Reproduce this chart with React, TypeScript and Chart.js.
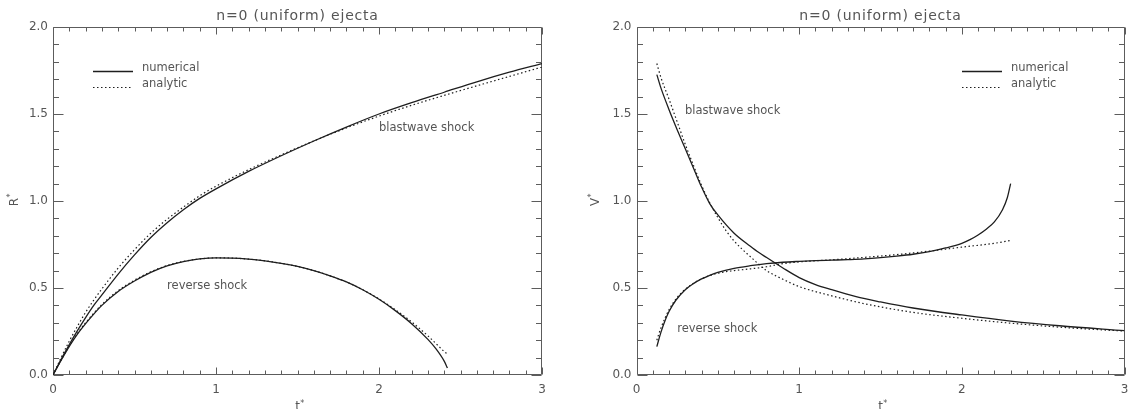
import { useEffect, useRef } from "react";
import { Chart, registerables } from "chart.js";

Chart.register(...registerables);

// ---------- texts ----------
const TITLE = "n=0 (uniform) ejecta";
const X_LABEL = "t";
const LEFT_Y_LABEL = "R";
const RIGHT_Y_LABEL = "V";
const SUP = "*";
const LEGEND_LABELS = ["numerical", "analytic"];
const BLAST_LABEL = "blastwave shock";
const REVERSE_LABEL = "reverse shock";

// ---------- ticks ----------
const X_TICKS = [0, 1, 2, 3];
const Y_TICKS = [0, 0.5, 1.0, 1.5, 2.0];

// ---------- left panel: R* vs t* ----------
const rBlastT = [0, 0.05, 0.1, 0.15, 0.2, 0.25, 0.3, 0.4, 0.5, 0.6, 0.7, 0.8, 0.9, 1.0, 1.2, 1.4, 1.6, 1.8, 2.0, 2.2, 2.4, 2.6, 2.8, 3.0];
const rBlastNum = [0, 0.09, 0.175, 0.255, 0.33, 0.4, 0.46, 0.58, 0.69, 0.79, 0.875, 0.95, 1.015, 1.07, 1.17, 1.26, 1.345, 1.425, 1.5, 1.565, 1.625, 1.685, 1.74, 1.79];
const rBlastAna = [0, 0.1, 0.195, 0.28, 0.36, 0.43, 0.495, 0.615, 0.72, 0.815, 0.895, 0.965, 1.03, 1.085, 1.18, 1.265, 1.345, 1.42, 1.488, 1.55, 1.607, 1.662, 1.716, 1.77];

const rRevT = [0, 0.05, 0.1, 0.15, 0.2, 0.25, 0.3, 0.4, 0.5, 0.6, 0.7, 0.8, 0.9, 1.0, 1.1, 1.2, 1.3, 1.4, 1.5, 1.6, 1.7, 1.8, 1.9, 2.0, 2.1, 2.2, 2.3, 2.35, 2.4, 2.42];
const rRevNum = [0, 0.085, 0.165, 0.235, 0.295, 0.35, 0.4, 0.48, 0.54, 0.59, 0.627, 0.652, 0.667, 0.673, 0.672, 0.666, 0.656, 0.642, 0.624, 0.6, 0.57, 0.535, 0.49, 0.435, 0.37, 0.295, 0.205, 0.15, 0.08, 0.04];
const rRevAna = [0, 0.087, 0.168, 0.24, 0.3, 0.355, 0.405, 0.485, 0.545, 0.593, 0.629, 0.653, 0.667, 0.673, 0.672, 0.666, 0.656, 0.642, 0.624, 0.6, 0.57, 0.535, 0.49, 0.437, 0.375, 0.305, 0.225, 0.18, 0.135, 0.12];

// ---------- right panel: V* vs t* ----------
const vBlastNumT = [0.125, 0.15, 0.2, 0.25, 0.3, 0.35, 0.4, 0.45, 0.5, 0.6, 0.7, 0.75, 0.8, 0.85, 0.9, 1.0, 1.1, 1.2, 1.35, 1.5, 1.7, 2.0, 2.3, 2.6, 3.0];
const vBlastNum = [1.726, 1.65, 1.525, 1.41, 1.3, 1.19, 1.08, 0.985, 0.92, 0.815, 0.74, 0.705, 0.675, 0.645, 0.615, 0.56, 0.52, 0.49, 0.45, 0.42, 0.385, 0.345, 0.31, 0.283, 0.255];
const vBlastAnaT = [0.125, 0.15, 0.2, 0.25, 0.3, 0.35, 0.4, 0.45, 0.5, 0.55, 0.6, 0.7, 0.8, 0.9, 1.0, 1.2, 1.4, 1.7, 2.0, 2.3, 2.6, 3.0];
const vBlastAna = [1.79, 1.71, 1.585, 1.455, 1.325, 1.205, 1.09, 0.99, 0.905, 0.83, 0.77, 0.68, 0.6, 0.55, 0.508, 0.455, 0.41, 0.36, 0.326, 0.298, 0.275, 0.252];

const vRevNumT = [0.125, 0.15, 0.177, 0.2, 0.243, 0.3, 0.35, 0.4, 0.45, 0.5, 0.6, 0.7, 0.8, 0.9, 1.0, 1.1, 1.2, 1.3, 1.4, 1.5, 1.6, 1.7, 1.8, 1.9, 2.0, 2.05, 2.1, 2.15, 2.2, 2.25, 2.28, 2.3];
const vRevNum = [0.163, 0.245, 0.316, 0.365, 0.431, 0.49, 0.525, 0.552, 0.573, 0.59, 0.613, 0.628, 0.64, 0.648, 0.653, 0.657, 0.66, 0.663, 0.667, 0.674, 0.683, 0.694, 0.709, 0.73, 0.757, 0.778, 0.805, 0.838, 0.88, 0.95, 1.02, 1.1];
const vRevAnaT = [0.125, 0.15, 0.2, 0.25, 0.3, 0.35, 0.4, 0.5, 0.6, 0.7, 0.8, 0.9, 1.0, 1.2, 1.4, 1.6, 1.8, 2.0, 2.2, 2.3];
const vRevAna = [0.2, 0.27, 0.375, 0.445, 0.493, 0.527, 0.553, 0.585, 0.6, 0.61, 0.622, 0.64, 0.65, 0.662, 0.676, 0.692, 0.712, 0.735, 0.757, 0.773];

// ---------- styles ----------
const AXIS_COLOR = "#5c5c5c";
const TEXT_COLOR = "#555555";
const LINE_COLOR = "#1e1e1e";
const FONT = '"DejaVu Sans", sans-serif';
const CANVAS_H = 409;

type Panel = {
  key: string;
  left: number;
  width: number;
  yAxisWidth: number;
  padRight: number;
  yLabel: string;
  yLabelX: number;
  legend: { x0: number; x1: number; textX: number; y0: number; y1: number };
  blastAt: [number, number];
  reverseAt: [number, number];
  series: { t: number[]; v: number[]; dashed: boolean }[];
};

const PANELS: Panel[] = [
  {
    key: "R",
    left: 0,
    width: 564,
    yAxisWidth: 53,
    padRight: 22,
    yLabel: LEFT_Y_LABEL,
    yLabelX: 14.5,
    legend: { x0: 93, x1: 133, textX: 142, y0: 72, y1: 88 },
    blastAt: [2.0, 1.42],
    reverseAt: [0.7, 0.51],
    series: [
      { t: rBlastT, v: rBlastNum, dashed: false },
      { t: rBlastT, v: rBlastAna, dashed: true },
      { t: rRevT, v: rRevNum, dashed: false },
      { t: rRevT, v: rRevAna, dashed: true },
    ],
  },
  {
    key: "V",
    left: 564,
    width: 564,
    yAxisWidth: 72.5,
    padRight: 3.5,
    yLabel: RIGHT_Y_LABEL,
    yLabelX: 31.6,
    legend: { x0: 398, x1: 438, textX: 447, y0: 72, y1: 88 },
    blastAt: [0.298, 1.52],
    reverseAt: [0.25, 0.265],
    series: [
      { t: vBlastNumT, v: vBlastNum, dashed: false },
      { t: vBlastAnaT, v: vBlastAna, dashed: true },
      { t: vRevNumT, v: vRevNum, dashed: false },
      { t: vRevAnaT, v: vRevAna, dashed: true },
    ],
  },
];

const DOT_DASH = [1.5, 2.5];

function makeDecor(p: Panel) {
  return {
    id: "decor" + p.key,
    beforeDatasetsDraw(chart: any) {
      const { ctx, chartArea: a, scales } = chart;
      const xs = scales.x;
      const ys = scales.y;
      const L = Math.round(a.left) + 0.5;
      const R = Math.round(a.right) - 0.5;
      const T = Math.round(a.top) + 0.5;
      const B = Math.round(a.bottom) - 0.5;
      ctx.save();
      ctx.strokeStyle = AXIS_COLOR;
      ctx.lineWidth = 1;
      ctx.beginPath();
      ctx.rect(L, T, R - L, B - T);
      ctx.stroke();
      ctx.beginPath();
      for (let i = 0; i <= 30; i++) {
        const v = i / 10;
        const len = i % 10 === 0 ? 7 : 4;
        const px = Math.round(xs.getPixelForValue(v)) + 0.5;
        ctx.moveTo(px, B);
        ctx.lineTo(px, B - len);
        ctx.moveTo(px, T);
        ctx.lineTo(px, T + len);
      }
      for (let i = 0; i <= 20; i++) {
        const v = i / 10;
        const len = i % 5 === 0 ? 10 : 5.5;
        const py = Math.round(ys.getPixelForValue(v)) + 0.5;
        ctx.moveTo(L, py);
        ctx.lineTo(L + len, py);
        ctx.moveTo(R, py);
        ctx.lineTo(R - len, py);
      }
      ctx.stroke();
      ctx.restore();
    },
    afterDraw(chart: any) {
      const { ctx, chartArea: a, scales } = chart;
      const xs = scales.x;
      const ys = scales.y;
      const cx = (a.left + a.right) / 2;
      ctx.save();
      ctx.fillStyle = TEXT_COLOR;

      // title
      ctx.font = `14px ${FONT}`;
      (ctx as any).letterSpacing = "0.8px";
      ctx.textAlign = "center";
      ctx.textBaseline = "middle";
      ctx.fillText(TITLE, cx, 16);
      (ctx as any).letterSpacing = "0px";

      // x axis title with superscript
      ctx.font = `12px ${FONT}`;
      ctx.textAlign = "left";
      ctx.textBaseline = "alphabetic";
      const wt = ctx.measureText(X_LABEL).width;
      ctx.fillText(X_LABEL, cx - wt / 2, 410);
      ctx.font = `8px ${FONT}`;
      ctx.fillText(SUP, cx + wt / 2 + 0.3, 406);

      // y axis title (rotated) with superscript
      ctx.save();
      ctx.translate(p.yLabelX, 202);
      ctx.rotate(-Math.PI / 2);
      ctx.font = `12px ${FONT}`;
      ctx.textBaseline = "middle";
      ctx.textAlign = "left";
      const wy = ctx.measureText(p.yLabel).width;
      ctx.fillText(p.yLabel, -wy / 2, 0);
      ctx.font = `8px ${FONT}`;
      ctx.fillText(SUP, wy / 2 + 0.3, -4);
      ctx.restore();

      // legend
      const lg = p.legend;
      ctx.strokeStyle = LINE_COLOR;
      ctx.lineWidth = 1.3;
      ctx.setLineDash([]);
      ctx.beginPath();
      ctx.moveTo(lg.x0, lg.y0 - 0.5);
      ctx.lineTo(lg.x1, lg.y0 - 0.5);
      ctx.stroke();
      ctx.lineWidth = 1.2;
      ctx.setLineDash(DOT_DASH);
      ctx.beginPath();
      ctx.moveTo(lg.x0, lg.y1 - 0.5);
      ctx.lineTo(lg.x1, lg.y1 - 0.5);
      ctx.stroke();
      ctx.setLineDash([]);
      ctx.font = `11.5px ${FONT}`;
      ctx.textAlign = "left";
      ctx.textBaseline = "alphabetic";
      ctx.fillText(LEGEND_LABELS[0], lg.textX, lg.y0 - 1.5);
      ctx.fillText(LEGEND_LABELS[1], lg.textX, lg.y1 - 1.5);

      // curve labels (placed in data coordinates)
      ctx.textBaseline = "middle";
      ctx.fillText(BLAST_LABEL, xs.getPixelForValue(p.blastAt[0]), ys.getPixelForValue(p.blastAt[1]));
      ctx.fillText(REVERSE_LABEL, xs.getPixelForValue(p.reverseAt[0]), ys.getPixelForValue(p.reverseAt[1]));
      ctx.restore();
    },
  };
}

function makeConfig(p: Panel): any {
  const datasets = p.series.map((s, i) => ({
    label: `${s.dashed ? LEGEND_LABELS[1] : LEGEND_LABELS[0]} ${i}`,
    data: s.t.map((t, j) => ({ x: t, y: s.v[j] })),
    showLine: true,
    borderColor: LINE_COLOR,
    backgroundColor: LINE_COLOR,
    borderWidth: s.dashed ? 1.2 : 1.3,
    borderDash: s.dashed ? DOT_DASH : [],
    pointRadius: 0,
    pointHoverRadius: 0,
    cubicInterpolationMode: "monotone",
    fill: false,
  }));
  return {
    type: "scatter",
    data: { datasets },
    options: {
      responsive: false,
      maintainAspectRatio: false,
      animation: false,
      events: [],
      layout: { padding: { left: 0, top: 27, right: p.padRight, bottom: 0 } },
      plugins: {
        legend: { display: false },
        tooltip: { enabled: false },
        title: { display: false },
      },
      scales: {
        x: {
          type: "linear",
          min: 0,
          max: 3,
          afterBuildTicks: (s: any) => {
            s.ticks = X_TICKS.map((v) => ({ value: v }));
          },
          afterFit: (s: any) => {
            s.height = CANVAS_H - 375;
            s.paddingLeft = 0;
            s.paddingRight = 0;
          },
          grid: { display: false, drawTicks: false },
          border: { display: false },
          ticks: {
            padding: 8,
            color: TEXT_COLOR,
            font: { family: FONT, size: 12 },
            maxRotation: 0,
            autoSkip: false,
            callback: (v: any) => String(v),
          },
        },
        y: {
          type: "linear",
          min: 0,
          max: 2,
          afterBuildTicks: (s: any) => {
            s.ticks = Y_TICKS.map((v) => ({ value: v }));
          },
          afterFit: (s: any) => {
            s.width = p.yAxisWidth;
            s.paddingTop = 0;
            s.paddingBottom = 0;
          },
          grid: { display: false, drawTicks: false },
          border: { display: false },
          ticks: {
            padding: 5,
            color: TEXT_COLOR,
            font: { family: FONT, size: 12 },
            autoSkip: false,
            callback: (v: any) => Number(v).toFixed(1),
          },
        },
      },
    },
    plugins: [makeDecor(p)],
  };
}

function PanelChart({ p }: { p: Panel }) {
  const ref = useRef<HTMLCanvasElement>(null);
  useEffect(() => {
    const chart = new Chart(ref.current as HTMLCanvasElement, makeConfig(p));
    return () => chart.destroy();
  }, [p]);
  return (
    <canvas
      ref={ref}
      width={p.width}
      height={CANVAS_H}
      style={{ position: "absolute", left: p.left, top: 0, width: p.width, height: CANVAS_H }}
    />
  );
}

export default function App() {
  return (
    <div
      style={{
        position: "absolute",
        left: 0,
        top: 0,
        width: 1128,
        height: CANVAS_H,
        background: "#ffffff",
        overflow: "hidden",
      }}
    >
      {PANELS.map((p) => (
        <PanelChart key={p.key} p={p} />
      ))}
    </div>
  );
}
